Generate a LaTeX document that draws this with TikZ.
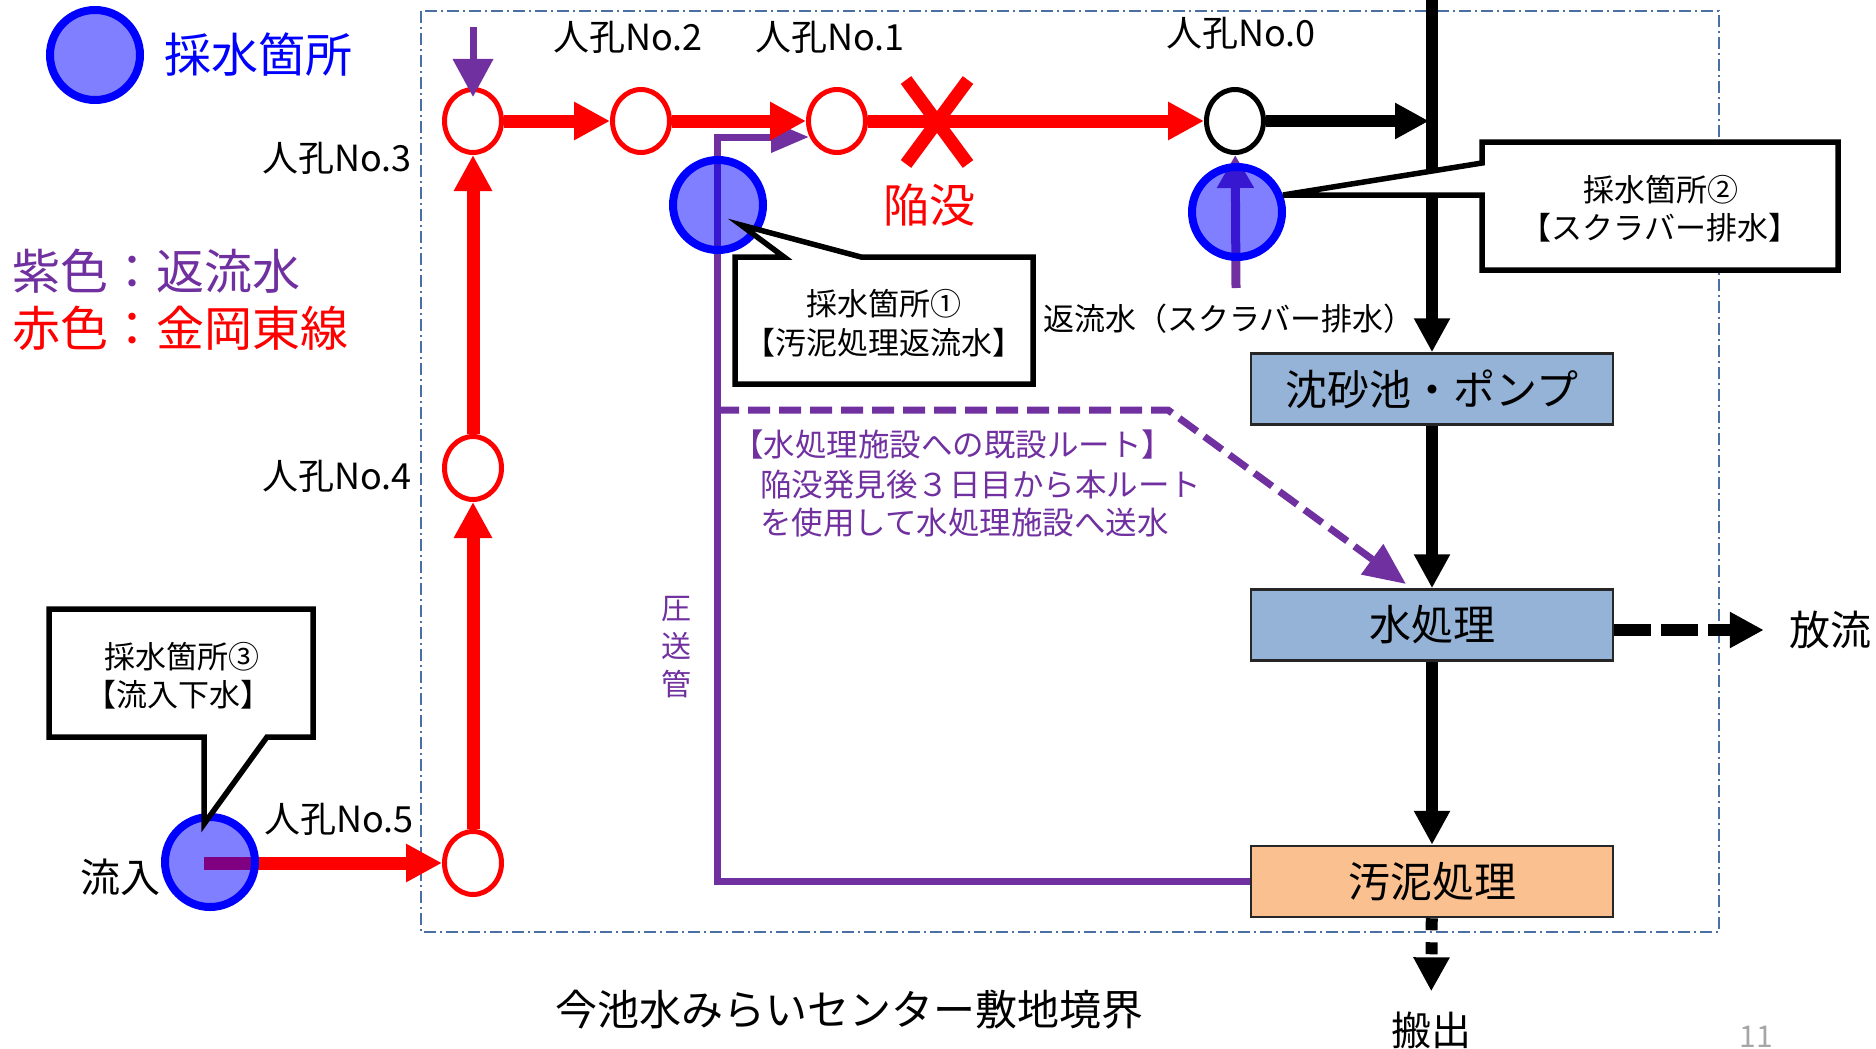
\documentclass[tikz,border=0pt]{standalone}
\usepackage{fontspec}
\setmainfont{Noto Sans CJK JP}
\usetikzlibrary{arrows.meta,shapes.geometric}
\definecolor{cred}{HTML}{FF0000}
\definecolor{cpur}{HTML}{7030A0}
\definecolor{cblu}{HTML}{0000FF}
\definecolor{cbox}{HTML}{95B3D7}
\definecolor{corg}{HTML}{FAC090}
\definecolor{cbnd}{HTML}{4A6FA5}
\definecolor{cgry}{HTML}{A6A6A6}
\newcommand{\mysz}[1]{\fontsize{#1}{#1}\selectfont}
\tikzset{
  mh/.style={ellipse, draw=cred, line width=5pt, fill=white, minimum width=57pt, minimum height=63pt, inner sep=0pt},
  smp/.style={circle, draw=cblu, line width=8pt, fill=cblu, fill opacity=0.5, draw opacity=1, minimum size=90pt, inner sep=0pt},
  redarr/.style={draw=cred, line width=13pt, -{Triangle[length=36pt,width=36pt]}},
  blk/.style={draw=black, line width=12pt, -{Triangle[length=34pt,width=34pt]}},
  ppl/.style={draw=cpur, line width=7pt},
  procbox/.style={draw=black!85, line width=2.5pt, minimum width=362pt, minimum height=71pt, inner sep=0pt, font=\mysz{42}},
  callout/.style={draw=black, line width=5.5pt, fill=white, line join=miter},
  txt/.style={inner sep=0pt, font=\mysz{36}},
  ctxt/.style={inner sep=0pt, font=\mysz{31}},
  ptxt/.style={inner sep=0pt, font=\mysz{31.5}, text=cpur, anchor=west}
}
\begin{document}
\begin{tikzpicture}[x=1pt,y=-1pt]
\useasboundingbox (0,0) rectangle (1876,1049);

% site boundary
\draw[cbnd, line width=1.5pt, dash pattern=on 12pt off 4pt on 2pt off 4pt] (421,11) rectangle (1719,932);

% manholes
\node[mh] (m3) at (473,121) {};
\node[mh] (m2) at (641,121) {};
\node[mh] (m1) at (837,121) {};
\node[mh, draw=black] (m0) at (1235,121) {};
\node[mh] (m4) at (473,468) {};
\node[mh] (m5) at (473,863) {};

% process boxes
\node[procbox, fill=cbox] (pump) at (1432,389) {沈砂池・ポンプ};
\node[procbox, fill=cbox] (wt) at (1432,625) {水処理};
\node[procbox, fill=corg] (sl) at (1432,881.5) {汚泥処理};

% outside labels
\node[inner sep=0pt, font=\mysz{41}] (out1) at (1830,630) {放流};
\node[inner sep=0pt, font=\mysz{40}] (out2) at (1431,1030) {搬出};

% purple pressure pipe
\coordinate (pa) at (717,881.5);
\coordinate (pb) at (717,137);
\coordinate (pc) at (809,137);
\draw[ppl, line join=miter, -{Triangle[length=38pt,width=30pt]}] (sl.west) -- (pa) -- (pb) -- (pc);

% purple dashed existing route
\coordinate (da) at (717,410);
\coordinate (db) at (1168,410);
\coordinate (dc) at (1406,584);
\draw[ppl, dash pattern=on 22pt off 9pt, -{Triangle[length=42pt,width=36pt]}] (da) -- (db) -- (dc);

% red line
\coordinate (s3start) at (204,863);
\draw[redarr] (s3start) -- (m5);
\draw[redarr] (m5) -- (m4);
\draw[redarr] (m4) -- (m3);
\draw[redarr] (m3) -- (m2);
\draw[redarr] (m2) -- (m1);
\draw[redarr] (m1) -- (m0);

% collapse mark
\draw[cred, line width=13pt] (906,80) -- (968,164) (968,80) -- (906,164);

% purple inflow into No.3
\coordinate (pin) at (473,27);
\draw[ppl, -{Triangle[length=38pt,width=39pt]}, shorten >=-10pt] (pin) -- (m3.north);

% black lines
\coordinate (vt) at (1432,0);
\draw[blk] (vt) -- (pump.north);
\draw[blk, shorten >=3pt] (m0) -- (vt |- m0);
\draw[blk] (pump) -- (wt);
\draw[blk] (wt) -- (sl);
\draw[blk, dash pattern=on 37pt off 10pt, shorten >=25pt] (wt.east |- out1) -- (out1);
\draw[blk, dash pattern=on 12pt off 12pt, shorten >=20pt] (sl) -- (out2);

% scrubber return arrow
\coordinate (s2t) at (1236,288);
\draw[ppl, line width=9pt, -{Triangle[length=33pt,width=35pt]}] (s2t) -- (m0);

% sampling points
\node[smp] (leg) at (95,55) {};
\node[smp] (s1) at (718,205) {};
\node[smp] (s2) at (1237,212) {};
\node[smp] (s3) at (210,862) {};

% callouts
\draw[callout] (735,257) -- (784,257) -- (741,225) -- (861,257) -- (1033,257) -- (1033,384) -- (735,384) -- cycle;
\draw[callout] (1482,142) -- (1838,142) -- (1838,270) -- (1482,270) -- (1482,195) -- (1283,195) -- (1482,163) -- cycle;
\draw[callout] (49,609) -- (313,609) -- (313,737) -- (267,737) -- (204,824) -- (204,737) -- (49,737) -- cycle;

\node[ctxt] (c1a) at (884,304) {採水箇所①};
\node[ctxt] (c1b) at (884,343) {【汚泥処理返流水】};
\node[ctxt] (c2a) at (1661,190) {採水箇所②};
\node[ctxt] (c2b) at (1660,228) {【スクラバー排水】};
\node[ctxt] (c3a) at (182,657) {採水箇所③};
\node[ctxt] (c3b) at (178,695) {【流入下水】};

% legend
\node[inner sep=0pt, font=\mysz{47}, text=cblu] (legt) at (258,55) {採水箇所};
\node[inner sep=0pt, font=\mysz{48}, text=cpur, anchor=west] (lg1) at (12,271) {紫色：返流水};
\node[inner sep=0pt, font=\mysz{48}, text=cred, anchor=west] (lg2) at (12,328) {赤色：金岡東線};

% manhole labels
\node[txt, anchor=east] (l3) at (412,158) {人孔No.3};
\node[txt] (l2) at (628,37) {人孔No.2};
\node[txt] (l1) at (830,37) {人孔No.1};
\node[txt] (l0) at (1241,33) {人孔No.0};
\node[txt, anchor=east] (l4) at (412,476) {人孔No.4};
\node[txt, anchor=east] (l5) at (414,819) {人孔No.5};
\node[inner sep=0pt, font=\mysz{40}] (inf) at (120,877) {流入};
\node[inner sep=0pt, font=\mysz{46}, text=cred] (kan) at (929,205) {陥没};
\node[inner sep=0pt, font=\mysz{31}, anchor=west] (ret) at (1043,319) {返流水（スクラバー排水）};

% purple notes
\node[ptxt] (p1) at (732,445) {【水処理施設への既設ルート】};
\node[ptxt] (p2) at (760,485) {陥没発見後３日目から本ルート};
\node[ptxt] (p3) at (760,523) {を使用して水処理施設へ送水};
\node[inner sep=0pt, font=\mysz{30}, text=cpur, align=center] (pp) at (676,647) {圧\\[8pt]送\\[8pt]管};

% bottom
\node[inner sep=0pt, font=\mysz{42}] (site) at (849,1010) {今池水みらいセンター敷地境界};
\node[inner sep=0pt, font=\mysz{30}, text=cgry] (pg) at (1756,1037) {11};
\end{tikzpicture}
\end{document}
